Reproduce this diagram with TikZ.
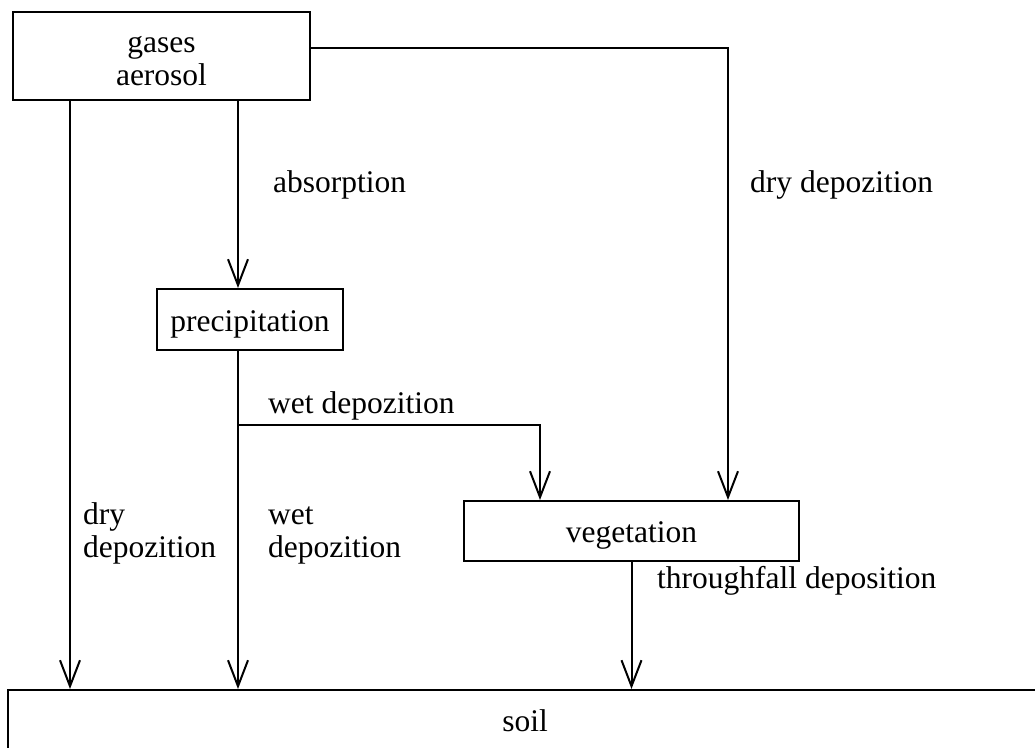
\documentclass[tikz,border=0pt]{standalone}
\usepackage{fontspec}
\setmainfont{Liberation Serif}
\usetikzlibrary{arrows.meta}
\begin{document}
\begin{tikzpicture}[x=1pt,y=-1pt,
  every node/.style={font=\fontsize{31.5}{33}\selectfont, inner sep=0pt},
  box/.style={draw, line width=2pt, align=center},
  flow/.style={line width=2pt, -{Straight Barb[length=26pt,width=20pt,line width=2pt]}},
  lbl/.style={anchor=base west, align=left}]
  \useasboundingbox (0,0) rectangle (1035,747);
  \clip (0,0) rectangle (1035,747);

  % boxes
  \node[box, minimum width=297pt, minimum height=88pt] (gases) at (161.5,56) {};
  \node[anchor=base, align=center] (gasestext) at (161.5,85) {gases\\aerosol};
  \node[box, minimum width=186pt, minimum height=61pt, text height=23pt, text depth=0pt] (prec) at (250,319.5) {precipitation};
  \node[box, minimum width=335pt, minimum height=60pt, text height=22pt, text depth=0pt] (veg) at (631.5,531) {vegetation};
  \node[box, anchor=north west, minimum width=1100pt, minimum height=120pt] (soil) at (7,689) {};
  \node[anchor=base] (soiltext) at (525,731) {soil};

  % column positions of the connectors
  \coordinate (c1) at (70,0);
  \coordinate (c2) at (238,0);
  \coordinate (c3) at (540,0);
  \coordinate (c4) at (728,48);
  \coordinate (j) at (238,425);

  % connectors
  \draw[flow] (gases.south -| c1) -- (soil.north -| c1);
  \draw[flow] (gases.south -| c2) -- (prec.north -| c2);
  \draw[flow] (prec.south -| c2) -- (soil.north -| c2);
  \draw[flow] (j) -| (veg.north -| c3);
  \draw[flow] (gases.east |- c4) -| (veg.north -| c4);
  \draw[flow] (veg.south) -- (soil.north -| veg.south);

  % labels
  \node[lbl] (l1) at (273,192) {absorption};
  \node[lbl] (l2) at (750,192) {dry depozition};
  \node[lbl] (l3) at (268,413) {wet depozition};
  \node[lbl] (l4) at (83,557) {dry\\depozition};
  \node[lbl] (l5) at (268,557) {wet\\depozition};
  \node[lbl] (l6) at (657,588) {throughfall deposition};
\end{tikzpicture}
\end{document}
